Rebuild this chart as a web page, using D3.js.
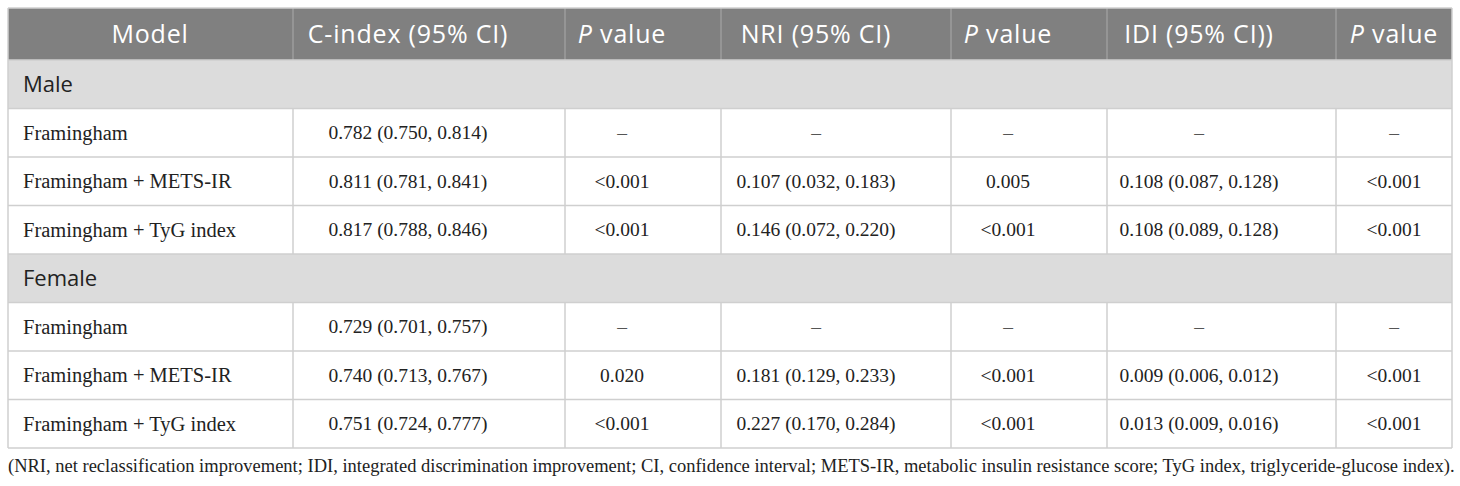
<!DOCTYPE html>
<html>
<head>
<meta charset="utf-8">
<script src="https://cdn.jsdelivr.net/npm/d3@7"></script>
<style>
  body { margin: 0; background: #fff; }
</style>
</head>
<body>
<div id="table"></div>
<script>
// Table content
const headers = ['Model', 'C-index (95% CI)', 'P value', 'NRI (95% CI)', 'P value', 'IDI (95% CI))', 'P value'];
const groups = ['Male', 'Female'];
const models = ['Framingham', 'Framingham + METS-IR', 'Framingham + TyG index'];

const maleCIndex = ['0.782 (0.750, 0.814)', '0.811 (0.781, 0.841)', '0.817 (0.788, 0.846)'];
const maleCIndexP = ['–', '<0.001', '<0.001'];
const maleNRI = ['–', '0.107 (0.032, 0.183)', '0.146 (0.072, 0.220)'];
const maleNRIP = ['–', '0.005', '<0.001'];
const maleIDI = ['–', '0.108 (0.087, 0.128)', '0.108 (0.089, 0.128)'];
const maleIDIP = ['–', '<0.001', '<0.001'];

const femaleCIndex = ['0.729 (0.701, 0.757)', '0.740 (0.713, 0.767)', '0.751 (0.724, 0.777)'];
const femaleCIndexP = ['–', '0.020', '<0.001'];
const femaleNRI = ['–', '0.181 (0.129, 0.233)', '0.227 (0.170, 0.284)'];
const femaleNRIP = ['–', '<0.001', '<0.001'];
const femaleIDI = ['–', '0.009 (0.006, 0.012)', '0.013 (0.009, 0.016)'];
const femaleIDIP = ['–', '<0.001', '<0.001'];

const footnote = '(NRI, net reclassification improvement; IDI, integrated discrimination improvement; CI, confidence interval; METS-IR, metabolic insulin resistance score; TyG index, triglyceride-glucose index).';

// Building rows: a group label row followed by its model rows
const groupCols = [
  [maleCIndex, maleCIndexP, maleNRI, maleNRIP, maleIDI, maleIDIP],
  [femaleCIndex, femaleCIndexP, femaleNRI, femaleNRIP, femaleIDI, femaleIDIP]
];
const rows = [];
groups.forEach((g, gi) => {
  rows.push({type: 'group', label: g});
  models.forEach((m, mi) => {
    rows.push({type: 'data', cells: [m].concat(groupCols[gi].map(col => col[mi]))});
  });
});

// Dimensions
const W = 1460, H = 486;
const tLeft = 8, tRight = 1452, tTop = 8;
const headerH = 52;
const bodyTop = tTop + headerH, bodyBottom = 448;

// column edges and the centre line each column's text sits on
const colEdges = [tLeft, 293, 565, 721, 951, 1107, 1336, tRight];
const colCenter = [150, 408, 622, 816, 1008, 1199, 1394];

const svg = d3.select('#table')
  .append('svg')
  .attr('width', W)
  .attr('height', H);

const yScale = d3.scaleBand()
  .domain(d3.range(rows.length))
  .range([bodyTop, bodyBottom]);

const xCol = d3.scaleOrdinal()
  .domain(d3.range(headers.length))
  .range(colCenter);

const lineColor = '#cfcfcf';
const serif = '"Liberation Serif", "Times New Roman", serif';
const sans = '"Open Sans", "Noto Sans", sans-serif';

const indexed = rows.map((r, i) => ({...r, i}));
const groupRows = indexed.filter(r => r.type === 'group');
const dataRows = indexed.filter(r => r.type === 'data');

// Header background
svg.append('rect')
  .attr('x', tLeft).attr('y', tTop)
  .attr('width', tRight - tLeft).attr('height', headerH)
  .attr('fill', '#808080');

// Group row backgrounds
svg.selectAll('.group-bg')
  .data(groupRows)
  .enter()
  .append('rect')
  .attr('class', 'group-bg')
  .attr('x', tLeft)
  .attr('y', d => yScale(d.i))
  .attr('width', tRight - tLeft)
  .attr('height', yScale.bandwidth())
  .attr('fill', '#dcdcdc');

// Header separators
svg.selectAll('.head-sep')
  .data(colEdges.slice(1, -1))
  .enter()
  .append('line')
  .attr('class', 'head-sep')
  .attr('x1', d => d).attr('x2', d => d)
  .attr('y1', tTop).attr('y2', bodyTop)
  .attr('stroke', '#9c9c9c')
  .attr('stroke-width', 1.5);

// Header text
const headText = svg.selectAll('.head')
  .data(headers)
  .enter()
  .append('text')
  .attr('class', 'head')
  .attr('x', (d, i) => xCol(i))
  .attr('y', tTop + headerH / 2)
  .attr('dy', '0.36em')
  .attr('text-anchor', 'middle')
  .attr('fill', '#fff')
  .style('font-family', sans)
  .style('font-size', '25px')
  .style('letter-spacing', '0.8px');

headText.each(function(d) {
  const t = d3.select(this);
  if (d.startsWith('P ')) {
    t.append('tspan').attr('font-style', 'italic').text('P');
    t.append('tspan').text(d.slice(1));
  } else {
    t.text(d);
  }
});

// Horizontal row lines
svg.selectAll('.hline')
  .data(d3.range(rows.length + 1))
  .enter()
  .append('line')
  .attr('class', 'hline')
  .attr('x1', tLeft).attr('x2', tRight)
  .attr('y1', i => i < rows.length ? yScale(i) : bodyBottom)
  .attr('y2', i => i < rows.length ? yScale(i) : bodyBottom)
  .attr('stroke', lineColor)
  .attr('stroke-width', 1.5);

// top border
svg.append('line')
  .attr('x1', tLeft).attr('x2', tRight)
  .attr('y1', tTop).attr('y2', tTop)
  .attr('stroke', lineColor)
  .attr('stroke-width', 1.5);

// Vertical lines in data rows
dataRows.forEach(r => {
  svg.selectAll(null)
    .data(colEdges.slice(1, -1))
    .enter()
    .append('line')
    .attr('x1', d => d).attr('x2', d => d)
    .attr('y1', yScale(r.i)).attr('y2', yScale(r.i) + yScale.bandwidth())
    .attr('stroke', lineColor)
    .attr('stroke-width', 1.5);
});

// Outer side borders
svg.selectAll('.side')
  .data([tLeft, tRight])
  .enter()
  .append('line')
  .attr('class', 'side')
  .attr('x1', d => d).attr('x2', d => d)
  .attr('y1', tTop).attr('y2', bodyBottom)
  .attr('stroke', lineColor)
  .attr('stroke-width', 1.5);

// Group labels
svg.selectAll('.group-label')
  .data(groupRows)
  .enter()
  .append('text')
  .attr('class', 'group-label')
  .attr('x', 23)
  .attr('y', d => yScale(d.i) + yScale.bandwidth() / 2)
  .attr('dy', '0.36em')
  .attr('fill', '#222')
  .style('font-family', sans)
  .style('font-size', '22px')
  .text(d => d.label);

// Data cells
dataRows.forEach(r => {
  svg.selectAll(null)
    .data(r.cells)
    .enter()
    .append('text')
    .attr('x', (d, i) => i === 0 ? 23 : xCol(i))
    .attr('y', yScale(r.i) + yScale.bandwidth() / 2)
    .attr('dy', '0.33em')
    .attr('text-anchor', (d, i) => i === 0 ? 'start' : 'middle')
    .attr('fill', d => d === '–' ? '#555' : '#222')
    .style('font-family', serif)
    .style('font-size', (d, i) => i === 0 ? '20.5px' : '19.5px')
    .text(d => d);
});

// Footnote
svg.append('text')
  .attr('x', tLeft)
  .attr('y', 466)
  .attr('dy', '0.33em')
  .attr('fill', '#222')
  .style('font-family', serif)
  .style('font-size', '18.5px')
  .text(footnote);
</script>
</body>
</html>
